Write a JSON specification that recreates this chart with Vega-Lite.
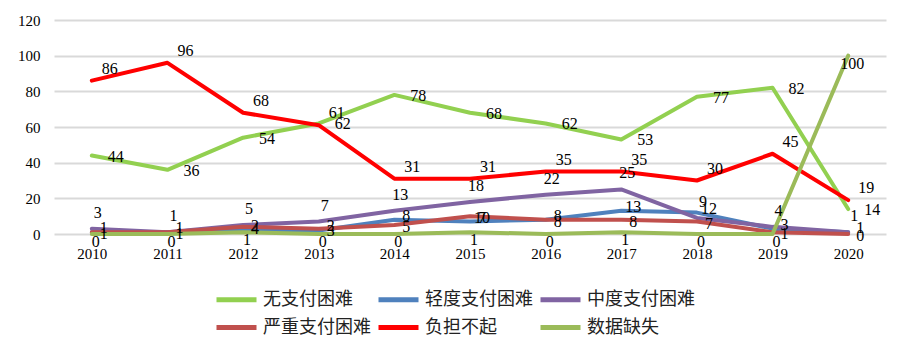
{
  "$schema": "https://vega.github.io/schema/vega-lite/v6.json",
  "width": 832,
  "height": 214,
  "autosize": {"type": "none"},
  "padding": {"left": 54, "top": 20, "right": 18, "bottom": 122},
  "background": "#ffffff",
  "config": {"view": {"stroke": null}, "font": "Liberation Serif"},
  "data": {
    "values": [
      {"year": "2010", "series": "无支付困难", "value": 44},
      {"year": "2011", "series": "无支付困难", "value": 36},
      {"year": "2012", "series": "无支付困难", "value": 54},
      {"year": "2013", "series": "无支付困难", "value": 62},
      {"year": "2014", "series": "无支付困难", "value": 78},
      {"year": "2015", "series": "无支付困难", "value": 68},
      {"year": "2016", "series": "无支付困难", "value": 62},
      {"year": "2017", "series": "无支付困难", "value": 53},
      {"year": "2018", "series": "无支付困难", "value": 77},
      {"year": "2019", "series": "无支付困难", "value": 82},
      {"year": "2020", "series": "无支付困难", "value": 14},
      {"year": "2010", "series": "轻度支付困难", "value": 1},
      {"year": "2011", "series": "轻度支付困难", "value": 1},
      {"year": "2012", "series": "轻度支付困难", "value": 2},
      {"year": "2013", "series": "轻度支付困难", "value": 2},
      {"year": "2014", "series": "轻度支付困难", "value": 8},
      {"year": "2015", "series": "轻度支付困难", "value": 7},
      {"year": "2016", "series": "轻度支付困难", "value": 8},
      {"year": "2017", "series": "轻度支付困难", "value": 13},
      {"year": "2018", "series": "轻度支付困难", "value": 12},
      {"year": "2019", "series": "轻度支付困难", "value": 3},
      {"year": "2020", "series": "轻度支付困难", "value": 1},
      {"year": "2010", "series": "中度支付困难", "value": 3},
      {"year": "2011", "series": "中度支付困难", "value": 1},
      {"year": "2012", "series": "中度支付困难", "value": 5},
      {"year": "2013", "series": "中度支付困难", "value": 7},
      {"year": "2014", "series": "中度支付困难", "value": 13},
      {"year": "2015", "series": "中度支付困难", "value": 18},
      {"year": "2016", "series": "中度支付困难", "value": 22},
      {"year": "2017", "series": "中度支付困难", "value": 25},
      {"year": "2018", "series": "中度支付困难", "value": 9},
      {"year": "2019", "series": "中度支付困难", "value": 4},
      {"year": "2020", "series": "中度支付困难", "value": 1},
      {"year": "2010", "series": "严重支付困难", "value": 1},
      {"year": "2011", "series": "严重支付困难", "value": 1},
      {"year": "2012", "series": "严重支付困难", "value": 4},
      {"year": "2013", "series": "严重支付困难", "value": 3},
      {"year": "2014", "series": "严重支付困难", "value": 5},
      {"year": "2015", "series": "严重支付困难", "value": 10},
      {"year": "2016", "series": "严重支付困难", "value": 8},
      {"year": "2017", "series": "严重支付困难", "value": 8},
      {"year": "2018", "series": "严重支付困难", "value": 7},
      {"year": "2019", "series": "严重支付困难", "value": 1},
      {"year": "2020", "series": "严重支付困难", "value": 0},
      {"year": "2010", "series": "负担不起", "value": 86},
      {"year": "2011", "series": "负担不起", "value": 96},
      {"year": "2012", "series": "负担不起", "value": 68},
      {"year": "2013", "series": "负担不起", "value": 61},
      {"year": "2014", "series": "负担不起", "value": 31},
      {"year": "2015", "series": "负担不起", "value": 31},
      {"year": "2016", "series": "负担不起", "value": 35},
      {"year": "2017", "series": "负担不起", "value": 35},
      {"year": "2018", "series": "负担不起", "value": 30},
      {"year": "2019", "series": "负担不起", "value": 45},
      {"year": "2020", "series": "负担不起", "value": 19},
      {"year": "2010", "series": "数据缺失", "value": 0},
      {"year": "2011", "series": "数据缺失", "value": 0},
      {"year": "2012", "series": "数据缺失", "value": 1},
      {"year": "2013", "series": "数据缺失", "value": 0},
      {"year": "2014", "series": "数据缺失", "value": 0},
      {"year": "2015", "series": "数据缺失", "value": 1},
      {"year": "2016", "series": "数据缺失", "value": 0},
      {"year": "2017", "series": "数据缺失", "value": 1},
      {"year": "2018", "series": "数据缺失", "value": 0},
      {"year": "2019", "series": "数据缺失", "value": 0},
      {"year": "2020", "series": "数据缺失", "value": 100}
    ]
  },
  "encoding": {
    "x": {
      "field": "year",
      "type": "ordinal",
      "scale": {"type": "point", "padding": 0.5},
      "axis": {"title": null, "labelAngle": 0, "domain": false, "ticks": false, "grid": false, "labelFontSize": 15, "labelColor": "#000000", "labelPadding": 12, "labelFont": "Liberation Serif"}
    },
    "y": {
      "field": "value",
      "type": "quantitative",
      "scale": {"domain": [0, 120]},
      "axis": {"title": null, "values": [0, 20, 40, 60, 80, 100, 120], "domain": false, "ticks": false, "gridColor": "#d9d9d9", "gridWidth": 2, "labelFontSize": 15, "labelColor": "#000000", "labelPadding": 14, "labelFont": "Liberation Serif"}
    }
  },
  "layer": [
    {
      "mark": {"type": "line", "strokeWidth": 4, "strokeCap": "round", "strokeJoin": "round"},
      "encoding": {
        "color": {
          "field": "series",
          "type": "nominal",
          "sort": ["无支付困难", "轻度支付困难", "中度支付困难", "严重支付困难", "负担不起", "数据缺失"],
          "scale": {
            "domain": ["无支付困难", "轻度支付困难", "中度支付困难", "严重支付困难", "负担不起", "数据缺失"],
            "range": ["#92D050", "#4F81BD", "#8064A2", "#C0504D", "#FF0000", "#9BBB59"]
          },
          "legend": {
            "title": null,
            "orient": "none",
            "legendX": 170,
            "legendY": 267,
            "direction": "horizontal",
            "columns": 3,
            "gridAlign": "all",
            "symbolType": "M-2,0H2",
            "symbolSize": 400,
            "symbolStrokeWidth": 5,
            "labelFont": "Noto Sans CJK SC",
            "labelFontSize": 18,
            "labelColor": "#222222",
            "labelOffset": 14,
            "labelLimit": 200,
            "columnPadding": -3,
            "rowPadding": 5
          }
        }
      }
    },
    {
      "transform": [{"filter": "datum.series === '无支付困难'"}],
      "mark": {"type": "text", "dx": 24, "dy": 1, "fontSize": 16, "font": "Liberation Serif", "color": "#000000"},
      "encoding": {"text": {"field": "value", "type": "quantitative"}}
    },
    {
      "transform": [{"filter": "datum.series === '负担不起'"}],
      "mark": {"type": "text", "dx": 18, "dy": -12, "fontSize": 16, "font": "Liberation Serif", "color": "#000000"},
      "encoding": {"text": {"field": "value", "type": "quantitative"}}
    },
    {
      "transform": [{"filter": "datum.series === '中度支付困难'"}],
      "mark": {"type": "text", "dx": 6, "dy": -16, "fontSize": 16, "font": "Liberation Serif", "color": "#000000"},
      "encoding": {"text": {"field": "value", "type": "quantitative"}}
    },
    {
      "transform": [{"filter": "datum.series === '轻度支付困难'"}],
      "mark": {"type": "text", "dx": 12, "dy": -4, "fontSize": 16, "font": "Liberation Serif", "color": "#000000"},
      "encoding": {"text": {"field": "value", "type": "quantitative"}}
    },
    {
      "transform": [{"filter": "datum.series === '严重支付困难'"}],
      "mark": {"type": "text", "dx": 12, "dy": 2, "fontSize": 16, "font": "Liberation Serif", "color": "#000000"},
      "encoding": {"text": {"field": "value", "type": "quantitative"}}
    },
    {
      "transform": [{"filter": "datum.series === '数据缺失'"}],
      "mark": {"type": "text", "dx": 4, "dy": 8, "fontSize": 16, "font": "Liberation Serif", "color": "#000000"},
      "encoding": {"text": {"field": "value", "type": "quantitative"}}
    }
  ]
}
